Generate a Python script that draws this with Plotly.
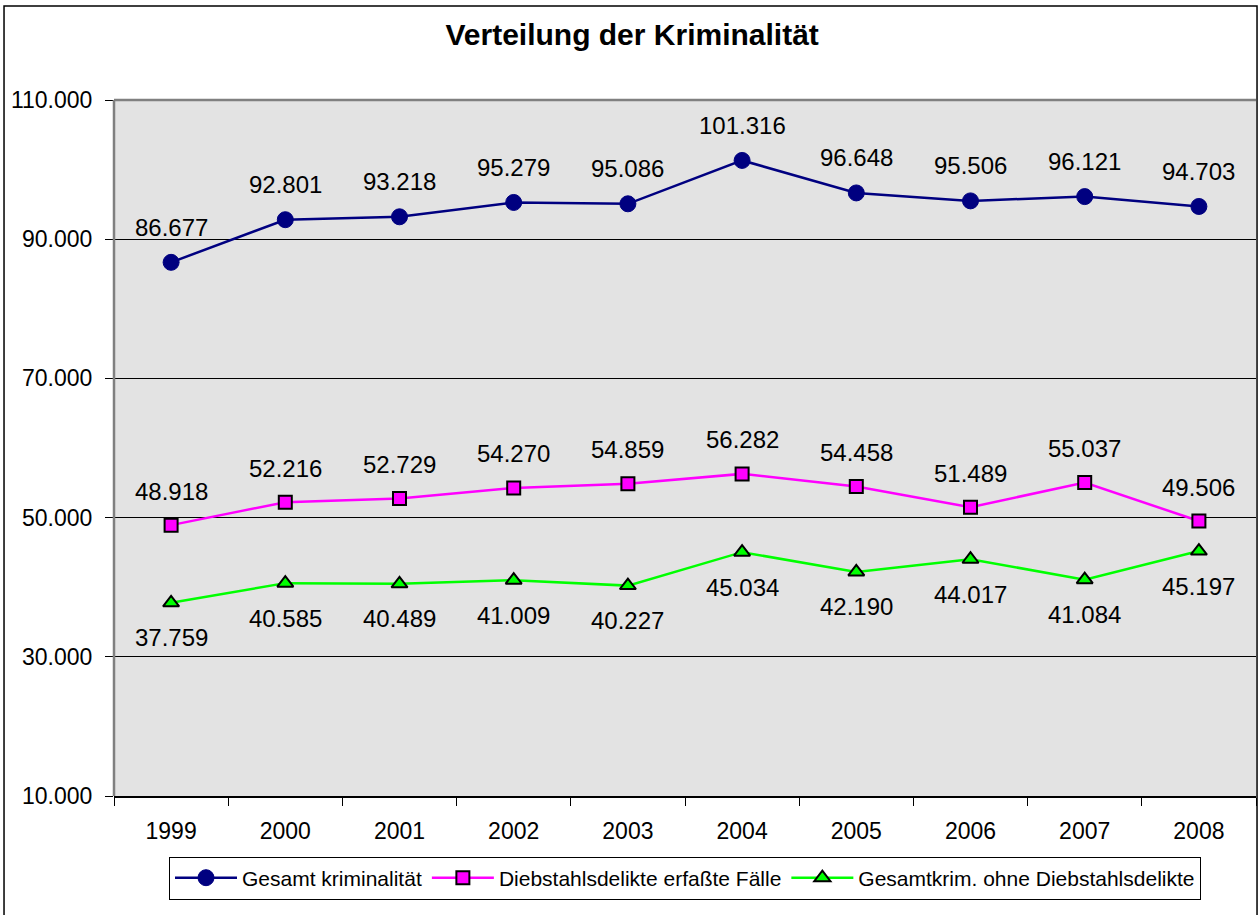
import plotly.graph_objects as go

years = ["1999", "2000", "2001", "2002", "2003", "2004", "2005", "2006", "2007", "2008"]
gesamt = [86677, 92801, 93218, 95279, 95086, 101316, 96648, 95506, 96121, 94703]
diebstahl = [48918, 52216, 52729, 54270, 54859, 56282, 54458, 51489, 55037, 49506]
ohne = [37759, 40585, 40489, 41009, 40227, 45034, 42190, 44017, 41084, 45197]

names = ["Gesamt kriminalität", "Diebstahlsdelikte erfaßte Fälle", "Gesamtkrim. ohne Diebstahlsdelikte"]

def fmt(v):
    return f"{v:,}".replace(",", ".")

xs = list(range(len(years)))
FONT = "Liberation Sans, Arial, sans-serif"

fig = go.Figure()
fig.add_trace(go.Scatter(x=xs, y=gesamt, name=names[0], mode="lines+markers",
                         line=dict(color="#000080", width=2.5),
                         marker=dict(symbol="circle", size=16, color="#000080",
                                     line=dict(color="#000080", width=1))))
fig.add_trace(go.Scatter(x=xs, y=diebstahl, name=names[1], mode="lines+markers",
                         line=dict(color="#FF00FF", width=2.5),
                         marker=dict(symbol="square", size=13, color="#FF00FF",
                                     line=dict(color="black", width=2))))
fig.add_trace(go.Scatter(x=xs, y=ohne, name=names[2], mode="lines+markers",
                         line=dict(color="#00FF00", width=2.5),
                         marker=dict(symbol="triangle-up", size=14, color="#00FF00",
                                     line=dict(color="black", width=2))))

annotations = []
for series, shift in ((gesamt, 35), (diebstahl, 34), (ohne, -35)):
    for x, v in zip(xs, series):
        annotations.append(dict(x=x, y=v, xref="x", yref="y", text=fmt(v),
                                showarrow=False, yshift=shift,
                                font=dict(family=FONT, size=24, color="black")))

shapes = [
    # figure frame
    dict(type="rect", xref="paper", yref="paper", x0=-0.0963, x1=1.0009, y0=-0.2, y1=1.135,
         line=dict(color="black", width=1.5), fillcolor="rgba(0,0,0,0)", layer="below"),
    # plot area top and left border (gray)
    dict(type="line", xref="paper", yref="paper", x0=0, x1=1, y0=1, y1=1,
         line=dict(color="#808080", width=2.5)),
    dict(type="line", xref="paper", yref="paper", x0=0, x1=0, y0=0, y1=1,
         line=dict(color="#808080", width=2.5)),
]

fig.update_layout(
    width=1258, height=915,
    margin=dict(l=114, r=2, t=100, b=119),
    paper_bgcolor="white", plot_bgcolor="#E3E3E3",
    separators=",.",
    title=dict(text="<b>Verteilung der Kriminalität</b>", x=0.5025, xref="container",
               xanchor="center", y=0.962, yanchor="middle",
               font=dict(family=FONT, size=30, color="black")),
    font=dict(family=FONT, size=23, color="black"),
    showlegend=True,
    legend=dict(orientation="h", x=0.5, xanchor="center", y=-0.087, yanchor="top",
                bgcolor="white", bordercolor="black", borderwidth=1,
                font=dict(family=FONT, size=21), itemwidth=62,
                tracegroupgap=0),
    annotations=annotations,
    shapes=shapes,
)

fig.update_xaxes(range=[-0.5, 9.5], tickmode="array", tickvals=xs, ticktext=years,
                 ticks="outside", ticklen=14, tickcolor="rgba(0,0,0,0)",
                 showgrid=False, zeroline=False,
                 showline=True, linecolor="black", linewidth=1.5,
                 tickfont=dict(family=FONT, size=23),
                 minor=dict(tickmode="linear", tick0=-0.5, dtick=1, ticks="outside",
                            ticklen=8, tickcolor="black", tickwidth=1, showgrid=False))
fig.update_yaxes(range=[10000, 110000], tickmode="linear", tick0=10000, dtick=20000,
                 tickformat=",d", ticks="outside", ticklen=8, tickcolor="black",
                 ticklabelstandoff=8,
                 showgrid=True, gridcolor="black", gridwidth=1, zeroline=False,
                 showline=False, tickfont=dict(family=FONT, size=23))

fig.write_html("out.html", config={"displayModeBar": False},
               post_script="document.body.style.margin='0';document.body.style.padding='0';")
